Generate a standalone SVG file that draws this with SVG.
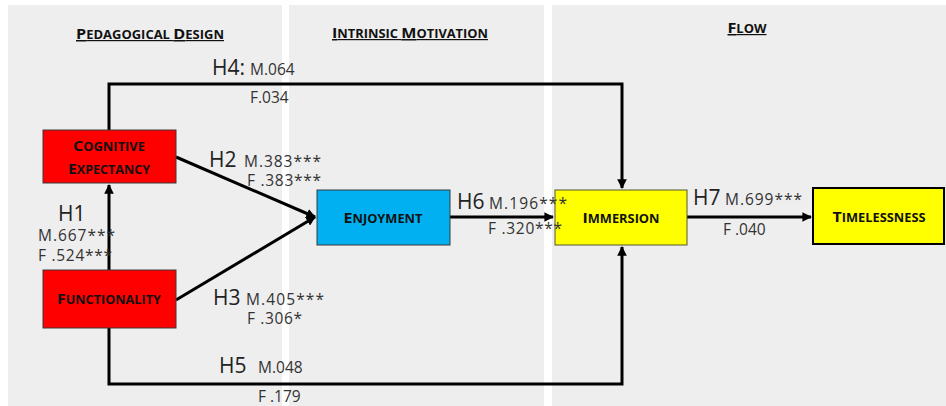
<svg xmlns="http://www.w3.org/2000/svg" width="946" height="406" viewBox="0 0 946 406">
<style>
.panel{fill:#eeeeee}
.hdr{font-family:"Open Sans","Liberation Sans",sans-serif;font-weight:700;fill:#111;text-decoration:underline}
.nl{font-family:"Open Sans","Liberation Sans",sans-serif;font-weight:700;fill:#111}
.big{font-family:"Open Sans","Liberation Sans",sans-serif;font-size:21px;fill:#222}
.sm{font-family:"Open Sans","Liberation Sans",sans-serif;font-size:15.5px;fill:#333}
.conn{fill:none;stroke:#000;stroke-width:3}
.red{fill:#ff0000;stroke:#3a3a3a;stroke-width:1}
.blue{fill:#00b0f0;stroke:#3a3a3a;stroke-width:1}
.yel{fill:#ffff00;stroke:#555533;stroke-width:1}
</style>
<defs>
<marker id="ah" viewBox="0 0 10 10" refX="9" refY="5" markerWidth="3.2" markerHeight="3.2" orient="auto" markerUnits="strokeWidth">
<path d="M0,0 L10,5 L0,10 z" fill="#000"/>
</marker>
</defs>
<rect width="946" height="406" fill="#ffffff"/>
<g id="panels">
<rect class="panel" x="8" y="5" width="274" height="401"/>
<rect class="panel" x="289" y="5" width="255" height="401"/>
<rect class="panel" x="552" y="5" width="394" height="401"/>
</g>
<g id="headers">
<text class="hdr" x="150" y="39" text-anchor="middle" textLength="148" lengthAdjust="spacingAndGlyphs"><tspan font-size="15">P</tspan><tspan font-size="12">EDAGOGICAL </tspan><tspan font-size="15">D</tspan><tspan font-size="12">ESIGN</tspan></text>
<text class="hdr" x="410" y="38" text-anchor="middle" textLength="156" lengthAdjust="spacingAndGlyphs"><tspan font-size="15">I</tspan><tspan font-size="12">NTRINSIC </tspan><tspan font-size="15">M</tspan><tspan font-size="12">OTIVATION</tspan></text>
<text class="hdr" x="747" y="33" text-anchor="middle" textLength="39" lengthAdjust="spacingAndGlyphs"><tspan font-size="15">F</tspan><tspan font-size="12">LOW</tspan></text>
</g>
<g id="connectors">
<path id="e-h4" class="conn" d="M109,130 V84 H622 V188" marker-end="url(#ah)"/>
<path id="e-h1" class="conn" d="M109,270 V185" marker-end="url(#ah)"/>
<path id="e-h2" class="conn" d="M176,157 L315,217" marker-end="url(#ah)"/>
<path id="e-h3" class="conn" d="M176,300 L315,217" marker-end="url(#ah)"/>
<path id="e-h5" class="conn" d="M109,328 V384 H622 V247" marker-end="url(#ah)"/>
<path id="e-h6" class="conn" d="M450,217 H553" marker-end="url(#ah)"/>
<path id="e-h7" class="conn" d="M687,217 H811" marker-end="url(#ah)"/>
</g>
<g id="n-cognitive">
<rect class="red" x="43" y="130" width="133" height="53"/>
<text class="nl" x="109" y="151" text-anchor="middle" textLength="72" lengthAdjust="spacingAndGlyphs"><tspan font-size="15">C</tspan><tspan font-size="12">OGNITIVE</tspan></text>
<text class="nl" x="109" y="174" text-anchor="middle" textLength="82" lengthAdjust="spacingAndGlyphs"><tspan font-size="15">E</tspan><tspan font-size="12">XPECTANCY</tspan></text>
</g>
<g id="n-functionality">
<rect class="red" x="43" y="270" width="133" height="58"/>
<text class="nl" x="109" y="304" text-anchor="middle" textLength="104" lengthAdjust="spacingAndGlyphs"><tspan font-size="15">F</tspan><tspan font-size="12">UNCTIONALITY</tspan></text>
</g>
<g id="n-enjoyment">
<rect class="blue" x="317" y="190" width="133" height="55"/>
<text class="nl" x="383" y="223" text-anchor="middle" textLength="79" lengthAdjust="spacingAndGlyphs"><tspan font-size="15">E</tspan><tspan font-size="12">NJOYMENT</tspan></text>
</g>
<g id="n-immersion">
<rect class="yel" x="555" y="190" width="132" height="55"/>
<text class="nl" x="621" y="223" text-anchor="middle" textLength="77" lengthAdjust="spacingAndGlyphs"><tspan font-size="15">I</tspan><tspan font-size="12">MMERSION</tspan></text>
</g>
<g id="n-timelessness">
<rect x="813" y="188" width="131" height="56" fill="#ffff00" stroke="#000" stroke-width="2"/>
<text class="nl" x="879" y="222" text-anchor="middle" textLength="93" lengthAdjust="spacingAndGlyphs"><tspan font-size="15">T</tspan><tspan font-size="12">IMELESSNESS</tspan></text>
</g>
<g id="labels">
<text class="big" x="212" y="75">H4:</text><text class="sm" x="250" y="75">M.064</text>
<text class="sm" x="250" y="103">F.034</text>
<text class="big" x="209" y="167">H2</text><text class="sm" x="244" y="167" textLength="77">M.383***</text>
<text class="sm" x="247" y="186" textLength="74">F .383***</text>
<text class="big" x="58" y="221">H1</text>
<text class="sm" x="38" y="241" textLength="77">M.667***</text>
<text class="sm" x="38" y="261" textLength="74">F .524***</text>
<text class="big" x="213" y="305">H3</text><text class="sm" x="246" y="305" textLength="78">M.405***</text>
<text class="sm" x="247" y="324" textLength="55">F .306*</text>
<text class="big" x="457" y="209">H6</text><text class="sm" x="489" y="209" textLength="78">M.196***</text>
<text class="sm" x="488" y="234" textLength="74">F .320***</text>
<text class="big" x="693" y="205">H7</text><text class="sm" x="725" y="205" textLength="77">M.699***</text>
<text class="sm" x="723" y="235">F .040</text>
<text class="big" x="219" y="373">H5</text><text class="sm" x="258" y="373">M.048</text>
<text class="sm" x="258" y="402">F .179</text>
</g>
</svg>
